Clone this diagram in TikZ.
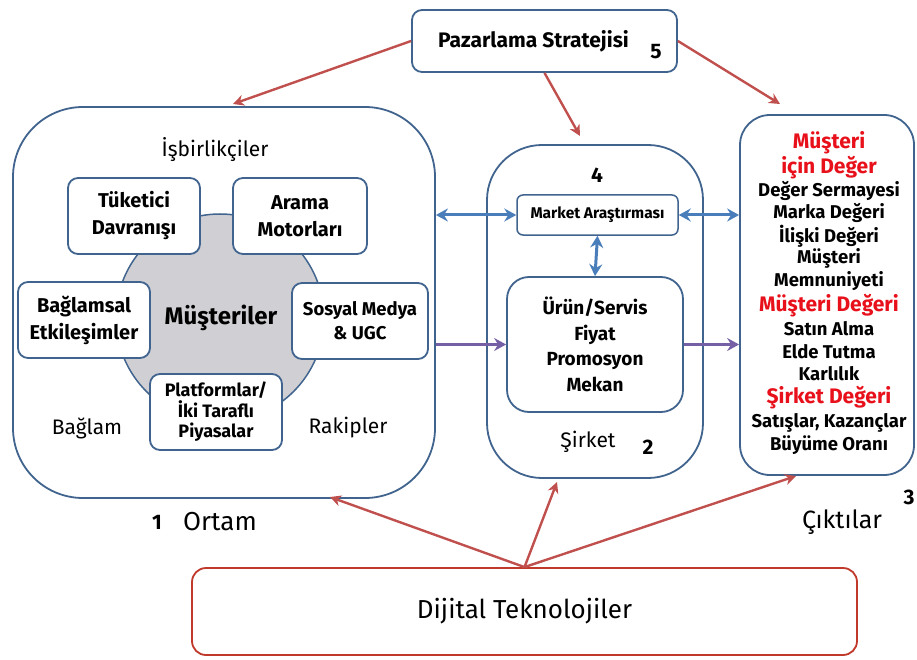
\documentclass[tikz,border=0pt]{standalone}
\usepackage{fontspec}
\setmainfont{Fira Sans}
\usetikzlibrary{arrows.meta}
\definecolor{bline}{HTML}{41648F}
\definecolor{barr}{HTML}{4A7EBB}
\definecolor{parr}{HTML}{7560A6}
\definecolor{rarr}{HTML}{C0504D}
\definecolor{rtext}{HTML}{E8101A}
\definecolor{rbox}{HTML}{C0392B}
\definecolor{cgray}{HTML}{D0D0D4}
\begin{document}
\begin{tikzpicture}[x=1pt,y=-1pt,
  bigbox/.style={draw=bline,line width=1.8pt,fill=white},
  inbox/.style={draw=bline,line width=1.8pt,fill=white,rounded corners=10pt,align=center,
     font=\fontsize{20}{27}\selectfont\bfseries,inner sep=0pt},
  tip/.style={-{Stealth[length=11pt,width=11pt,inset=3.5pt]}},
  dtip/.style={{Stealth[length=12pt,width=13pt,inset=4pt]}-{Stealth[length=12pt,width=13pt,inset=4pt]}},
  barrow/.style={dtip,draw=barr,line width=3pt},
  parrow/.style={-{Stealth[length=12pt,width=13pt,inset=4pt]},draw=parr,line width=3pt},
  rarrow/.style={tip,draw=rarr,line width=2.4pt},
  ctext/.style={font=\fontsize{18.5}{20}\selectfont\bfseries,inner sep=0pt},
  rtextst/.style={font=\fontsize{21}{23}\selectfont\bfseries,text=rtext,inner sep=0pt},
  plain/.style={font=\fontsize{21}{24}\selectfont,inner sep=0pt},
  num/.style={font=\fontsize{21}{24}\selectfont\bfseries,inner sep=0pt}]
\useasboundingbox (0,0) rectangle (917,660);

% outer boxes
\node[bigbox,rounded corners=70pt,minimum width=422pt,minimum height=391pt] (ortam) at (224,302.5) {};
\node[bigbox,rounded corners=55pt,minimum width=216pt,minimum height=333pt] (sirket) at (595,311.5) {};
\node[bigbox,rounded corners=30pt,minimum width=174pt,minimum height=360pt] (cikti) at (827,295) {};
\node[inbox,minimum width=265pt,minimum height=62pt,font=\fontsize{21}{24}\selectfont\bfseries] (paz) at (544.5,41) {Pazarlama Stratejisi\hspace*{22pt}};
\node[num] (n5) at (656,52) {5};
\node[draw=rbox,line width=1.8pt,rounded corners=14pt,minimum width=665pt,minimum height=87pt,
  font=\fontsize{26}{30}\selectfont] (dij) at (524.5,611.5) {Dijital Teknolojiler};

% Ortam contents
\node[plain] (isb) at (215,150) {İşbirlikçiler};
\node[circle,draw=bline,line width=1.5pt,fill=cgray,minimum size=208pt,inner sep=0pt] (circ) at (220,318) {};
\node[inbox,minimum width=132pt,minimum height=76pt] (tuk) at (134,216) {Tüketici\\Davranışı};
\node[inbox,minimum width=134pt,minimum height=76pt] (ara) at (300,216) {Arama\\Motorları};
\node[inbox,minimum width=132pt,minimum height=76pt] (bag) at (84,320) {Bağlamsal\\Etkileşimler};
\node[inbox,minimum width=136pt,minimum height=76pt,font=\fontsize{18.5}{24}\selectfont\bfseries] (sos) at (360,321) {Sosyal Medya\\\& UGC};
\node[inbox,minimum width=132pt,minimum height=76pt,font=\fontsize{18}{20.5}\selectfont\bfseries] (pla) at (216,412) {Platformlar/\\İki Taraflı\\Piyasalar};
\node[font=\fontsize{24}{28}\selectfont\bfseries,inner sep=0pt] (mus) at (221,318) {Müşteriler};
\node[plain] (bgl) at (87,428) {Bağlam};
\node[plain] (rak) at (348,428) {Rakipler};
\node[num] (n1) at (157,522) {1};
\node[font=\fontsize{26}{30}\selectfont,inner sep=0pt] (ort) at (220,522) {Ortam};

% Sirket contents
\node[num] (n4) at (597,175) {4};
\node[draw=bline,line width=1.5pt,rounded corners=6pt,fill=white,minimum width=161pt,minimum height=40pt,
  font=\fontsize{15.5}{18}\selectfont\bfseries,inner sep=0pt] (mar) at (597.5,215) {Market Araştırması};
\node[inbox,rounded corners=22pt,minimum width=176pt,minimum height=135pt,font=\fontsize{19}{25.5}\selectfont\bfseries] (urun) at (595,344.5) {Ürün/Servis\\Fiyat\\Promosyon\\Mekan};
\node[plain] (sir) at (588,442) {Şirket};
\node[num] (n2) at (648,447) {2};

% Ciktilar contents
\node[rtextst] (c1) at (829,143) {Müşteri};
\node[rtextst] (c2) at (829,168) {için Değer};
\node[ctext] (c3) at (829,191) {Değer Sermayesi};
\node[ctext] (c4) at (829,213) {Marka Değeri};
\node[ctext] (c5) at (829,236) {İlişki Değeri};
\node[ctext] (c6) at (829,258) {Müşteri};
\node[ctext] (c7) at (829,281) {Memnuniyeti};
\node[rtextst] (c8) at (829,306) {Müşteri Değeri};
\node[ctext] (c9) at (829,329) {Satın Alma};
\node[ctext] (c10) at (829,352) {Elde Tutma};
\node[ctext] (c11) at (829,374) {Karlılık};
\node[rtextst] (c12) at (829,398) {Şirket Değeri};
\node[ctext] (c13) at (829,423) {Satışlar, Kazançlar};
\node[ctext] (c14) at (829,445) {Büyüme Oranı};
\node[num] (n3) at (909,497) {3};
\node[font=\fontsize{25}{30}\selectfont,inner sep=0pt] (cik) at (842,522) {Çıktılar};

% blue and purple arrows
\draw[barrow] (ortam.east |- mar.west) -- (mar.west);
\draw[barrow] (mar.east) -- (cikti.west |- mar.east);
\draw[barrow] (mar.south) -- (urun.north);
\draw[parrow] (ortam.east |- urun.west) -- (urun.west);
\draw[parrow] (urun.east) -- (cikti.west |- urun.east);

% red arrows
\coordinate (t1) at (233,104);
\coordinate (t2) at (580,136);
\coordinate (t3) at (780,104);
\draw[rarrow] (paz.west) -- (t1);
\draw[rarrow] (paz.south) -- (t2);
\draw[rarrow] (paz.east) -- (t3);
\coordinate (b1) at (330,497);
\coordinate (b2) at (557,482);
\coordinate (b3) at (796,476);
\draw[rarrow] (dij.north) -- (b1);
\draw[rarrow] (dij.north) -- (b2);
\draw[rarrow] (dij.north) -- (b3);
\end{tikzpicture}
\end{document}
